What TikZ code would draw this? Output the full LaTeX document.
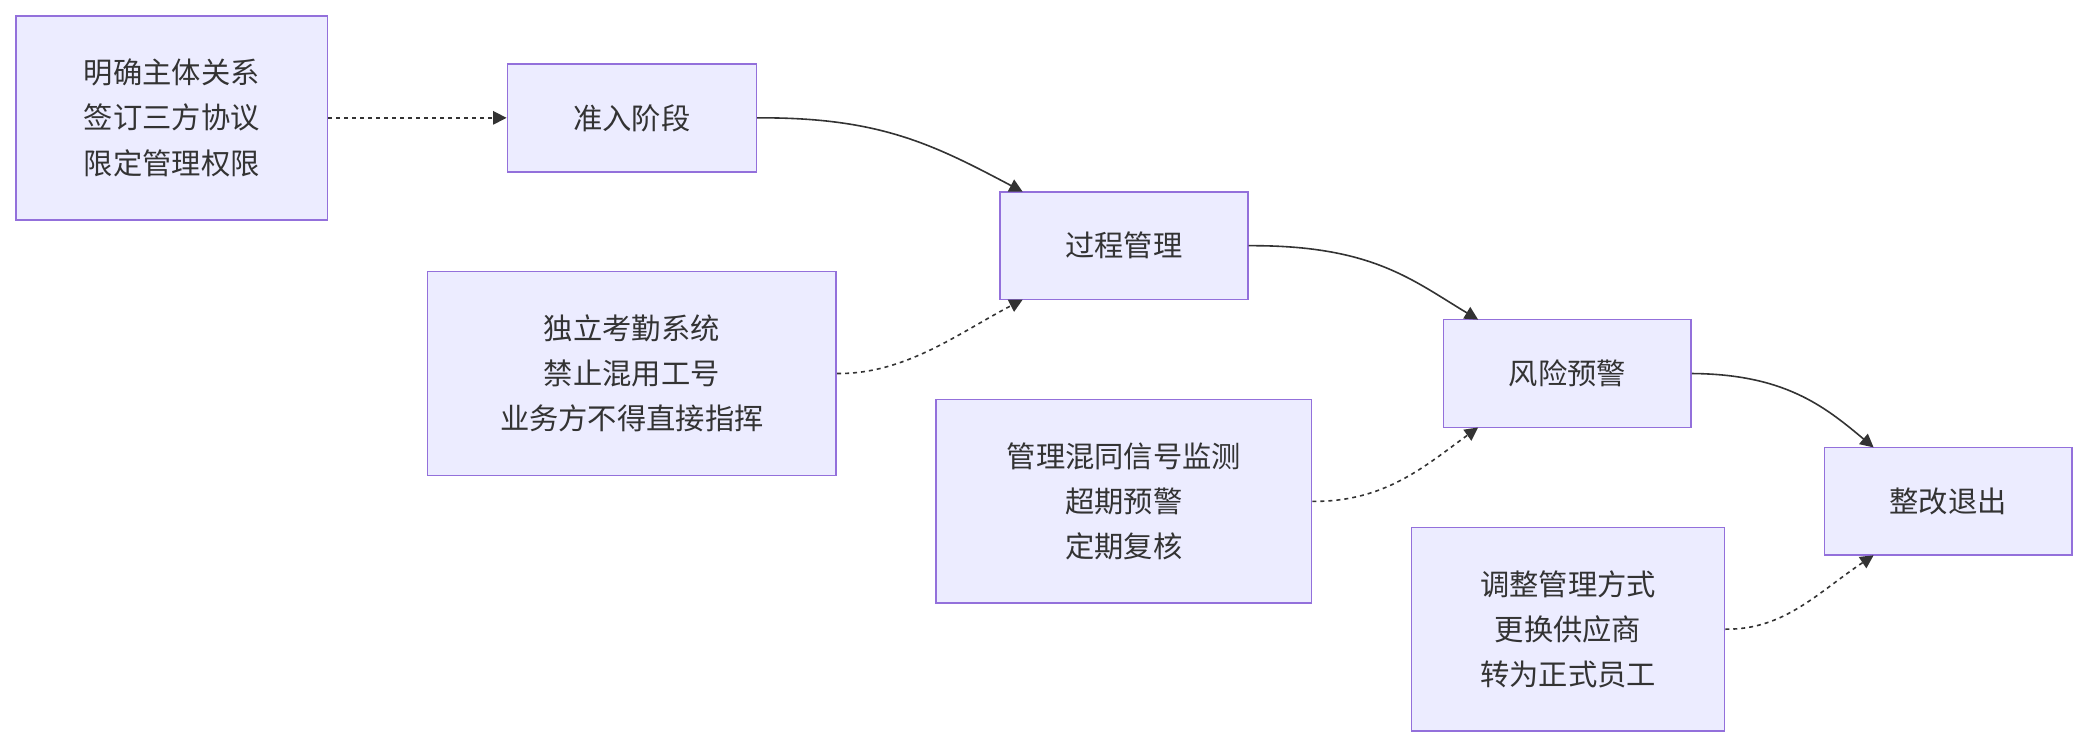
\documentclass[tikz,border=0pt]{standalone}
\usepackage{fontspec}
\setmainfont{Noto Sans CJK SC}
\usetikzlibrary{arrows.meta}
\begin{document}
\begin{tikzpicture}[x=0.5pt,y=-0.5pt,
 box/.style={draw=violet!60!blue!50, line width=0.6pt, draw={rgb,255:red,147;green,112;blue,219}, fill={rgb,255:red,236;green,236;blue,255}, inner sep=0pt, align=center, font=\fontsize{11pt}{17pt}\selectfont, text=black!80},
 solidc/.style={-{Triangle[length=5pt,width=5pt]}, line width=0.6pt, draw=black!80},
 dotc/.style={solidc, dash pattern=on 1.5pt off 1.5pt}]
\useasboundingbox (0,0) rectangle (1568,562);
\node[box, minimum width=117pt, minimum height=76.5pt] (A) at (129,88.5) {明确主体关系\\签订三方协议\\限定管理权限};
\node[box, minimum width=93.5pt, minimum height=40.5pt] (B) at (474.5,88.5) {准入阶段};
\node[box, minimum width=93pt, minimum height=40.5pt] (C) at (844,184.5) {过程管理};
\node[box, minimum width=153.5pt, minimum height=76.5pt] (D) at (474.5,280.5) {独立考勤系统\\禁止混用工号\\业务方不得直接指挥};
\node[box, minimum width=93pt, minimum height=40.5pt] (E) at (1177,280.5) {风险预警};
\node[box, minimum width=141pt, minimum height=76.5pt] (F) at (844,376.5) {管理混同信号监测\\超期预警\\定期复核};
\node[box, minimum width=93pt, minimum height=40.5pt] (G) at (1463,376.5) {整改退出};
\node[box, minimum width=117.5pt, minimum height=76.5pt] (H) at (1177.5,472.5) {调整管理方式\\更换供应商\\转为正式员工};
\coordinate (Cin1) at (768,144);
\coordinate (Cin2) at (768,225);
\coordinate (Ein1) at (1110,240);
\coordinate (Ein2) at (1110,321);
\coordinate (Gin1) at (1407,336);
\coordinate (Gin2) at (1407,417);
\draw[dotc] (A.east) -- (B.west);
\draw[solidc] (B.east) .. controls (660,88) and (700,108) .. (Cin1);
\draw[dotc] (D.east) .. controls (680,281) and (720,250) .. (Cin2);
\draw[solidc] (C.east) .. controls (1030,184) and (1060,210) .. (Ein1);
\draw[dotc] (F.east) .. controls (1040,377) and (1070,350) .. (Ein2);
\draw[solidc] (E.east) .. controls (1340,281) and (1370,305) .. (Gin1);
\draw[dotc] (H.east) .. controls (1340,473) and (1365,445) .. (Gin2);
\end{tikzpicture}
\end{document}
